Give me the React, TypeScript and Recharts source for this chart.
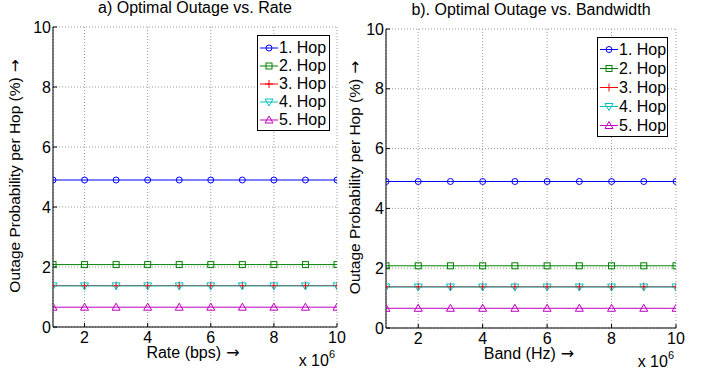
import React from 'react';
import { LineChart, Line, XAxis, YAxis, CartesianGrid, Legend } from 'recharts';

const FONT = '"Liberation Sans", Arial, Helvetica, sans-serif';
const ARROW_FONT = '"DejaVu Sans", sans-serif';

// x values are in units of 10^6
const rateMbps = [1, 2, 3, 4, 5, 6, 7, 8, 9, 10];
const bandMHz = [1, 2, 3, 4, 5, 6, 7, 8, 9, 10];
const xTicks = [2, 4, 6, 8, 10];
const yTicks = [0, 2, 4, 6, 8, 10];
const hopNames = ['1. Hop', '2. Hop', '3. Hop', '4. Hop', '5. Hop'];

// a) Optimal outage (%) vs. rate
const rateHop1 = [4.9, 4.9, 4.9, 4.9, 4.9, 4.9, 4.9, 4.9, 4.9, 4.9];
const rateHop2 = [2.08, 2.08, 2.08, 2.08, 2.08, 2.08, 2.08, 2.08, 2.08, 2.08];
const rateHop3 = [1.38, 1.38, 1.38, 1.38, 1.38, 1.38, 1.38, 1.38, 1.38, 1.38];
const rateHop4 = [1.37, 1.37, 1.37, 1.37, 1.37, 1.37, 1.37, 1.37, 1.37, 1.37];
const rateHop5 = [0.66, 0.66, 0.66, 0.66, 0.66, 0.66, 0.66, 0.66, 0.66, 0.66];

// b) Optimal outage (%) vs. bandwidth
const bandHop1 = [4.9, 4.9, 4.9, 4.9, 4.9, 4.9, 4.9, 4.9, 4.9, 4.9];
const bandHop2 = [2.08, 2.08, 2.08, 2.08, 2.08, 2.08, 2.08, 2.08, 2.08, 2.08];
const bandHop3 = [1.38, 1.38, 1.38, 1.38, 1.38, 1.38, 1.38, 1.38, 1.38, 1.38];
const bandHop4 = [1.37, 1.37, 1.37, 1.37, 1.37, 1.37, 1.37, 1.37, 1.37, 1.37];
const bandHop5 = [0.66, 0.66, 0.66, 0.66, 0.66, 0.66, 0.66, 0.66, 0.66, 0.66];

const hopColors = ['#0000ff', '#008000', '#ff0000', '#00bfbf', '#bf00bf'];
const hopShapes = ['circle', 'square', 'plus', 'tdown', 'tup'];
const hopKeys = ['h1', 'h2', 'h3', 'h4', 'h5'];

const rateRows = rateMbps.map((x, i) => ({
  x,
  h1: rateHop1[i],
  h2: rateHop2[i],
  h3: rateHop3[i],
  h4: rateHop4[i],
  h5: rateHop5[i],
}));

const bandRows = bandMHz.map((x, i) => ({
  x,
  h1: bandHop1[i],
  h2: bandHop2[i],
  h3: bandHop3[i],
  h4: bandHop4[i],
  h5: bandHop5[i],
}));

function Marker({ shape, cx, cy, color }: any) {
  if (cx == null || cy == null) return <g />;
  const common = { fill: 'none', stroke: color, strokeWidth: 1 };
  switch (shape) {
    case 'circle':
      return <circle cx={cx} cy={cy} r={3} {...common} />;
    case 'square':
      return <rect x={cx - 3} y={cy - 3} width={6} height={6} {...common} />;
    case 'plus':
      return <path d={`M${cx - 4},${cy}H${cx + 4}M${cx},${cy - 4}V${cy + 4}`} {...common} />;
    case 'tdown':
      return <path d={`M${cx - 4},${cy - 3}L${cx + 4},${cy - 3}L${cx},${cy + 4}Z`} {...common} />;
    default:
      return <path d={`M${cx - 4},${cy + 3}L${cx + 4},${cy + 3}L${cx},${cy - 4}Z`} {...common} />;
  }
}

function XLabel({ viewBox, text, title, titleY }: any) {
  const { x, y, width } = viewBox || {};
  return (
    <g fontFamily={FONT} fill="#000">
      <text x={x + width / 2} y={titleY} textAnchor="middle" fontSize={16}>
        {title}
      </text>
      <text x={x + width / 2 - 2} y={y + 31} textAnchor="middle" fontSize={16}>
        {text}
        <tspan fontFamily={ARROW_FONT}>{' →'}</tspan>
      </text>
      <text x={x + width - 2} y={y + 39} textAnchor="end" fontSize={16}>
        x 10
        <tspan dy={-8} fontSize={11}>6</tspan>
      </text>
    </g>
  );
}

function YLabel({ viewBox }: any) {
  const { x, y, height } = viewBox || {};
  const bx = x + 20;
  const cy = y + height / 2 - 1;
  return (
    <text
      x={bx}
      y={cy}
      transform={`rotate(-90, ${bx}, ${cy})`}
      textAnchor="middle"
      fontSize={15.5}
      fontFamily={FONT}
      fill="#000"
    >
      Outage Probability per Hop (%)
      <tspan fontFamily={ARROW_FONT}>{' →'}</tspan>
    </text>
  );
}

function LegendBox({ rowH, padTop }: any) {
  return (
    <div
      style={{
        border: '1.5px solid #000',
        background: '#fff',
        paddingTop: padTop,
        paddingBottom: 1,
        paddingLeft: 1,
        fontFamily: FONT,
        fontSize: 16,
        color: '#000',
        boxSizing: 'border-box',
      }}
    >
      {hopNames.map((name, i) => (
        <div key={name} style={{ display: 'flex', alignItems: 'center', height: rowH, lineHeight: `${rowH}px` }}>
          <svg width={20} height={rowH} style={{ display: 'block', flex: 'none' }}>
            <line x1={1} x2={19} y1={rowH / 2} y2={rowH / 2} stroke={hopColors[i]} strokeWidth={1} />
            <Marker shape={hopShapes[i]} cx={10} cy={rowH / 2} color={hopColors[i]} />
          </svg>
          <span style={{ whiteSpace: 'nowrap' }}>{name}</span>
        </div>
      ))}
    </div>
  );
}

function Panel({ rows, width, margin, yAxisWidth, xAxisHeight, title, xLabel, legend }: any) {
  return (
    <LineChart width={width} height={376} data={rows} margin={margin}>
      <CartesianGrid stroke="#9a9a9a" strokeDasharray="1 2" strokeWidth={1} />
      <XAxis
        dataKey="x"
        type="number"
        domain={[1, 10]}
        ticks={xTicks}
        allowDataOverflow
        interval={0}
        height={xAxisHeight}
        tickSize={-4}
        tickMargin={9}
        stroke="#000"
        tick={{ fill: '#000', fontSize: 16, fontFamily: FONT }}
        label={<XLabel text={xLabel} title={title} titleY={margin.top - 14} />}
      />
      <XAxis
        xAxisId="top"
        orientation="top"
        type="number"
        domain={[1, 10]}
        ticks={xTicks}
        allowDataOverflow
        interval={0}
        height={0}
        tickSize={-4}
        tick={false}
        stroke="#000"
      />
      <YAxis
        type="number"
        domain={[0, 10]}
        ticks={yTicks}
        allowDataOverflow
        interval={0}
        width={yAxisWidth}
        tickSize={-4}
        tickMargin={6}
        stroke="#000"
        tick={{ fill: '#000', fontSize: 16, fontFamily: FONT }}
        label={<YLabel />}
      />
      <YAxis
        yAxisId="right"
        orientation="right"
        type="number"
        domain={[0, 10]}
        ticks={yTicks}
        allowDataOverflow
        interval={0}
        width={0}
        tickSize={-4}
        tick={false}
        stroke="#000"
      />
      {hopKeys.map((k, i) => (
        <Line
          key={k}
          dataKey={k}
          name={hopNames[i]}
          stroke={hopColors[i]}
          strokeWidth={1}
          isAnimationActive={false}
          dot={(p: any) => (
            <Marker key={`${k}-${p.index}`} shape={hopShapes[i]} cx={p.cx} cy={p.cy} color={hopColors[i]} />
          )}
          activeDot={false}
        />
      ))}
      <Legend
        layout="vertical"
        align="center"
        verticalAlign="middle"
        wrapperStyle={{ left: legend.left, top: legend.top, width: legend.width }}
        content={() => <LegendBox rowH={legend.rowH} padTop={legend.padTop} />}
      />
    </LineChart>
  );
}

export default function App() {
  return (
    <div style={{ position: 'absolute', left: 0, top: 0, width: 711, height: 376, background: '#fff', overflow: 'hidden' }}>
      <div style={{ position: 'absolute', left: 0, top: 0 }}>
        <Panel
          rows={rateRows}
          width={360}
          margin={{ top: 27, right: 23, bottom: 0, left: 0 }}
          yAxisWidth={53}
          xAxisHeight={49}
          title="a) Optimal Outage vs. Rate"
          xLabel="Rate (bps)"
          legend={{ left: 257, top: 35, width: 73, rowH: 18, padTop: 3 }}
        />
      </div>
      <div style={{ position: 'absolute', left: 340, top: 0 }}>
        <Panel
          rows={bandRows}
          width={371}
          margin={{ top: 29, right: 35, bottom: 0, left: 0 }}
          yAxisWidth={46}
          xAxisHeight={48}
          title="b). Optimal Outage vs. Bandwidth"
          xLabel="Band (Hz)"
          legend={{ left: 257, top: 37, width: 71, rowH: 19, padTop: 2 }}
        />
      </div>
    </div>
  );
}
